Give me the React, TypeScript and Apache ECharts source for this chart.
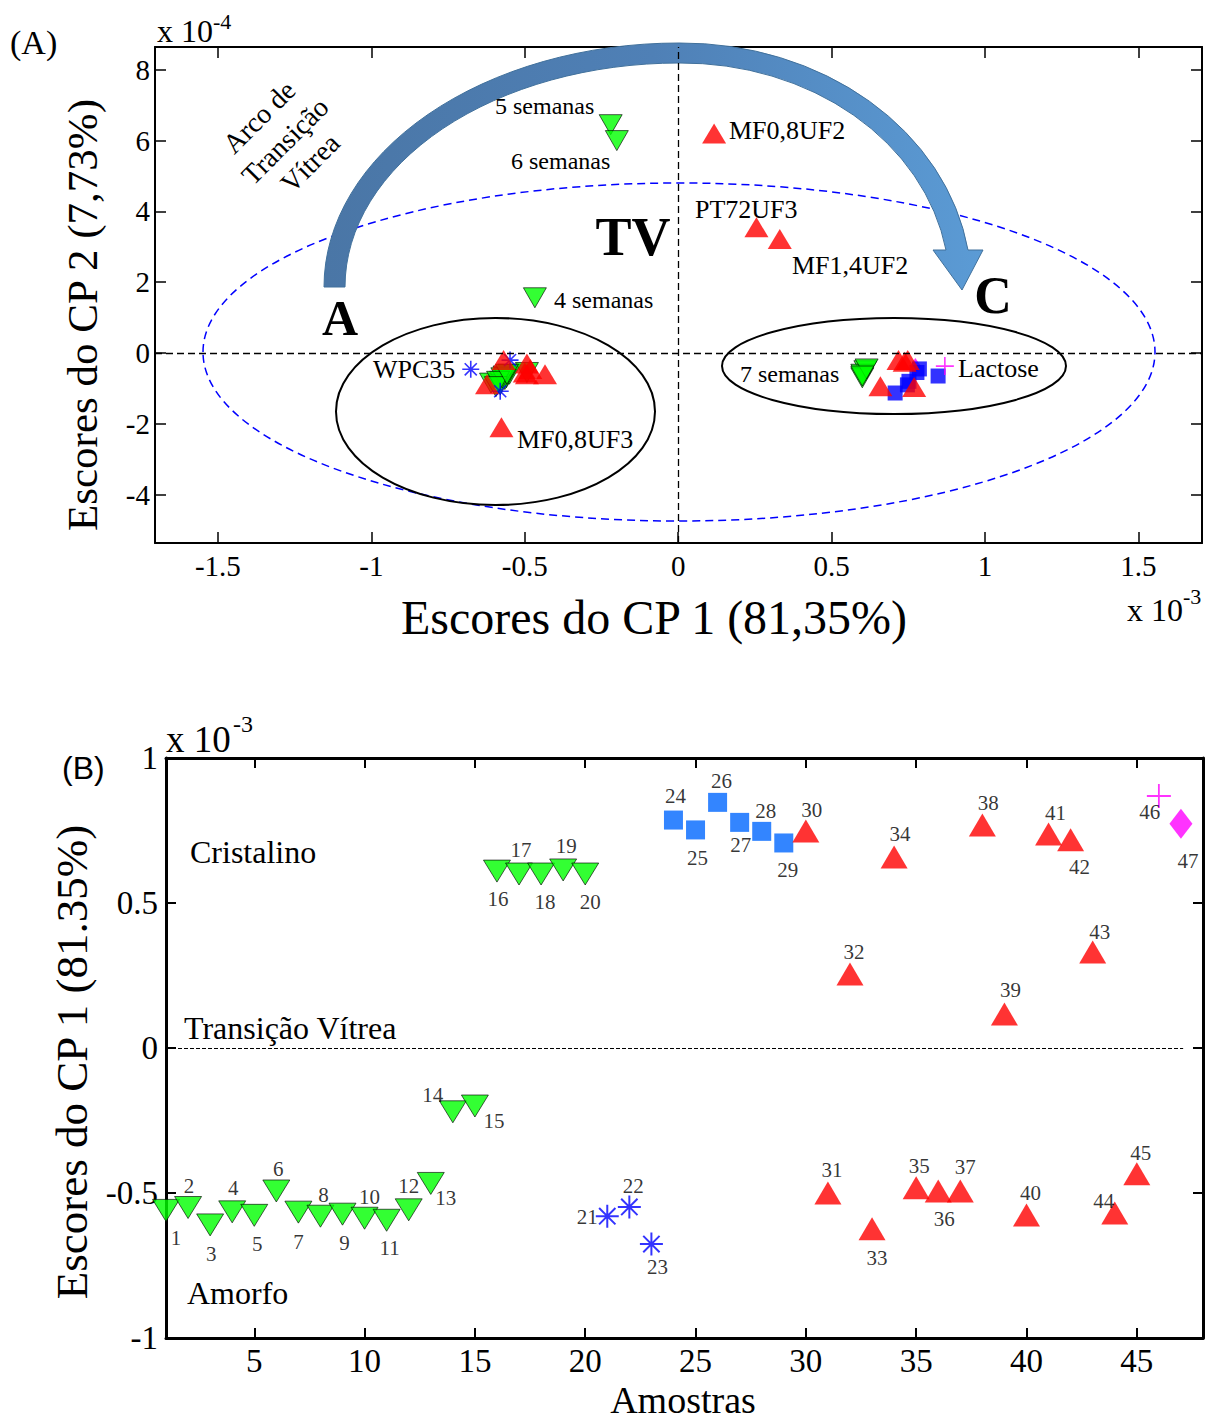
import React, { useEffect, useRef } from 'react';
import * as echarts from 'echarts';

// ---------- data ----------
const samples = [1, 2, 3, 4, 5, 6, 7, 8, 9, 10, 11, 12, 13, 14, 15, 16, 17, 18, 19, 20,
  21, 22, 23, 24, 25, 26, 27, 28, 29, 30, 31, 32, 33, 34, 35, 36, 37, 38, 39, 40,
  41, 42, 43, 44, 45, 46, 47];

// Scores on PC1 (x 1e-3)
const cp1 = [-0.56, -0.55, -0.61, -0.565, -0.577, -0.493, -0.566, -0.58, -0.573, -0.587,
  -0.594, -0.558, -0.467, -0.22, -0.2, 0.61, 0.6, 0.6, 0.614, 0.6,
  -0.58, -0.548, -0.676, 0.786, 0.752, 0.847, 0.778, 0.747, 0.707, 0.748,
  -0.5, 0.255, -0.623, 0.659, -0.482, -0.493, -0.493, 0.769, 0.117, -0.576,
  0.738, 0.718, 0.331, -0.569, -0.434, 0.869, 0.773];

// Scores on PC2 (x 1e-4)
const cp2 = [-0.7, -0.6, -0.85, -0.75, -0.8, -0.55, -0.65, -0.9, -0.7, -0.8,
  -0.95, -0.6, 1.56, 6.45, 6.0, -0.5, -0.6, -0.7, -0.45, -0.65,
  -1.08, -0.2, -0.46, -0.45, -0.8, -0.65, -0.55, -0.9, -1.13, -0.2,
  -0.55, 3.55, -0.88, -0.94, -0.45, -0.3, -0.6, -0.96, 6.2, -2.1,
  -0.25, -0.2, 3.22, -0.2, -0.6, -0.37, -0.37];

// marker group of each sample
const kind = ['v', 'v', 'v', 'v', 'v', 'v', 'v', 'v', 'v', 'v', 'v', 'v', 'v', 'v', 'v', 'v', 'v', 'v', 'v', 'v',
  'star', 'star', 'star', 'sq', 'sq', 'sq', 'sq', 'sq', 'sq',
  'tri', 'tri', 'tri', 'tri', 'tri', 'tri', 'tri', 'tri', 'tri', 'tri', 'tri', 'tri', 'tri', 'tri', 'tri', 'tri',
  'plus', 'dia'];

const xTicksA = [-1.5, -1, -0.5, 0, 0.5, 1, 1.5];
const yTicksA = [-4, -2, 0, 2, 4, 6, 8];
const xTicksB = [5, 10, 15, 20, 25, 30, 35, 40, 45];
const yTicksB = [-1, -0.5, 0, 0.5, 1];

// label offsets (px) of sample numbers in panel B
const labelOffsetB = [[10, 28], [1, -22], [1, 29], [1, -24], [3, 29], [2, -22], [0, 30], [3, -21], [2, 29], [5, -21],
  [3, 28], [0, -24], [15, 15], [-20, -17], [19, 15], [1, 28], [2, -24], [4, 28], [3, -24], [5, 28],
  [-20, 1], [4, -21], [6, 23], [2, -24], [2, 28], [4, -21], [1, 23], [4, -20], [4, 27], [6, -21],
  [4, -23], [4, -22], [5, 29], [6, -23], [3, -22], [6, 28], [5, -24], [6, -22], [6, -24], [4, -22],
  [7, -21], [9, 27], [7, -20], [-11, -12], [4, -21], [-9, 16], [7, 37]];

// ---------- shapes ----------
const ARC_D = 'M324,287 A355,244 0 0 1 679,43 A290,244 0 0 1 968,250 L983,250 L962,290 L933,250 L946,250 A268,224 0 0 0 679,63 A334,224 0 0 0 345,287 Z';
echarts.graphic.registerShape('arcArrow', echarts.graphic.extendPath(ARC_D, {}));

const DOWN_TRI = 'path://M0,0L20,0L10,17Z';
const STAR = 'path://M10,0L10,20M0,10L20,10M2.9,2.9L17.1,17.1M2.9,17.1L17.1,2.9';
const PLUS = 'path://M10,0L10,20M0,10L20,10';

const SERIF = '"Liberation Serif", "Times New Roman", serif';

const styleA: any = {
  v: { symbol: DOWN_TRI, symbolSize: [23, 20], itemStyle: { color: '#00ff00', borderColor: '#000', borderWidth: 0.8 } },
  dia: { symbol: 'diamond', symbolSize: [11, 16], itemStyle: { color: '#ff00ff' } },
  sq: { symbol: 'rect', symbolSize: 15, itemStyle: { color: '#0000ff' } },
  star: { symbol: STAR, symbolSize: 17, itemStyle: { color: 'rgba(0,0,255,0)', borderColor: '#0000ff', borderWidth: 1.6 } },
  tri: { symbol: 'triangle', symbolSize: [24, 20], itemStyle: { color: '#ff0000' } },
  plus: { symbol: PLUS, symbolSize: 18, itemStyle: { color: 'rgba(255,0,255,0)', borderColor: '#ff00ff', borderWidth: 1.6 } },
};
const styleB: any = {
  v: { symbol: DOWN_TRI, symbolSize: [27, 22], itemStyle: { color: '#00ff00', borderColor: '#000', borderWidth: 0.8 } },
  dia: { symbol: 'diamond', symbolSize: [23, 30], itemStyle: { color: '#ff00ff' } },
  sq: { symbol: 'rect', symbolSize: 19, itemStyle: { color: '#0066ff' } },
  star: { symbol: STAR, symbolSize: 23, itemStyle: { color: 'rgba(0,0,255,0)', borderColor: '#0000ff', borderWidth: 2 } },
  tri: { symbol: 'triangle', symbolSize: [27, 23], itemStyle: { color: '#ff0000' } },
  plus: { symbol: PLUS, symbolSize: 24, itemStyle: { color: 'rgba(255,0,255,0)', borderColor: '#ff00ff', borderWidth: 1.8 } },
};
const kindOrder = ['v', 'dia', 'sq', 'star', 'tri', 'plus'];

function indicesOf(k: string) {
  const out: number[] = [];
  kind.forEach((v, i) => { if (v === k) out.push(i); });
  return out;
}

function txt(text: string, x: number, y: number, size: number, opts: any = {}) {
  return {
    type: 'text',
    x, y,
    rotation: opts.rotation || 0,
    z: 10,
    style: {
      text,
      font: `${opts.bold ? 'bold ' : ''}${size}px ${opts.family || SERIF}`,
      fill: opts.color || '#000',
      textAlign: opts.align || 'left',
      textVerticalAlign: 'middle',
      align: opts.align || 'left',
      verticalAlign: 'middle',
    },
  };
}

function axisPair(gridIndex: number, dim: 'x' | 'y', min: number, max: number, ticks: number[], o: any) {
  const main = {
    gridIndex,
    type: 'value',
    min, max,
    position: dim === 'x' ? 'bottom' : 'left',
    axisLine: { show: true, onZero: false, lineStyle: { color: '#000', width: o.lineWidth } },
    axisTick: { show: true, inside: true, length: o.tickLen, customValues: ticks, lineStyle: { color: '#000', width: o.tickWidth } },
    axisLabel: {
      show: true, customValues: ticks, formatter: (v: number) => String(v),
      fontSize: o.fontSize, fontFamily: SERIF, color: '#000', margin: o.margin,
    },
    splitLine: { show: false },
  };
  const mirror = {
    gridIndex,
    type: 'value',
    min, max,
    position: dim === 'x' ? 'top' : 'right',
    axisLine: { show: true, onZero: false, lineStyle: { color: '#000', width: o.lineWidth } },
    axisTick: { show: true, inside: true, length: o.tickLen, customValues: ticks, lineStyle: { color: '#000', width: o.tickWidth } },
    axisLabel: { show: false },
    splitLine: { show: false },
  };
  return [main, mirror];
}

export default function App() {
  const ref = useRef<HTMLDivElement>(null);

  useEffect(() => {
    document.body.style.margin = '0';
    const chart = echarts.init(ref.current!, null, { renderer: 'svg' });

    const optA = { lineWidth: 2, tickLen: 11, tickWidth: 1.5, fontSize: 29 };
    const optB = { lineWidth: 3, tickLen: 10, tickWidth: 2, fontSize: 33 };

    const xAxes = [
      ...axisPair(0, 'x', -1.705, 1.707, xTicksA, { ...optA, margin: 8 }),
      ...axisPair(1, 'x', 1, 48, xTicksB, { ...optB, margin: 6 }),
    ];
    const yAxes = [
      ...axisPair(0, 'y', -5.367, 8.644, yTicksA, { ...optA, margin: 5 }),
      ...axisPair(1, 'y', -1, 1, yTicksB, { ...optB, margin: 8 }),
    ];

    const series: any[] = [];
    kindOrder.forEach((k, n) => {
      const idx = indicesOf(k);
      const s: any = {
        type: 'scatter',
        name: 'A-' + k,
        xAxisIndex: 0,
        yAxisIndex: 0,
        ...styleA[k],
        data: idx.map((i) => [cp1[i], cp2[i]]),
        z: 2 + n * 0.1,
      };
      if (n === 0) {
        s.markLine = {
          silent: true,
          symbol: 'none',
          label: { show: false },
          lineStyle: { color: '#000', type: [7, 4], width: 1.3 },
          data: [{ xAxis: 0 }, { yAxis: 0 }],
        };
      }
      series.push(s);
    });
    kindOrder.forEach((k, n) => {
      const idx = indicesOf(k);
      const s: any = {
        type: 'scatter',
        name: 'B-' + k,
        xAxisIndex: 2,
        yAxisIndex: 2,
        ...styleB[k],
        z: 2 + n * 0.1,
        data: idx.map((i) => ({
          value: [samples[i], cp1[i]],
          label: {
            show: true,
            position: 'inside',
            offset: labelOffsetB[i],
            formatter: String(samples[i]),
            color: '#000',
            textBorderWidth: 0,
            fontSize: 21,
            fontFamily: SERIF,
          },
        })),
      };
      if (n === 0) {
        s.markLine = {
          silent: true,
          symbol: 'none',
          label: { show: false },
          lineStyle: { color: '#000', type: [4, 2], width: 1 },
          data: [[{ coord: [1, 0] }, { coord: [47.1, 0] }]],
        };
      }
      series.push(s);
    });

    const arcFill = new echarts.graphic.LinearGradient(0, 0, 1, 0, [
      { offset: 0, color: '#4a76a6' },
      { offset: 0.5, color: '#4f80b6' },
      { offset: 1, color: '#5b9bd5' },
    ]);

    const graphic: any[] = [
      // ellipses
      { type: 'ellipse', z: 1, shape: { cx: 679, cy: 352, rx: 476, ry: 169 },
        style: { fill: 'none', stroke: '#0000ff', lineWidth: 1.5, lineDash: [8, 5] } },
      { type: 'ellipse', z: 1, shape: { cx: 495.5, cy: 411.5, rx: 159.5, ry: 93.5 },
        style: { fill: 'none', stroke: '#000', lineWidth: 2 } },
      { type: 'ellipse', z: 1, shape: { cx: 894, cy: 366, rx: 172, ry: 48 },
        style: { fill: 'none', stroke: '#000', lineWidth: 2 } },
      // arc arrow
      { type: 'arcArrow', x: 0, y: 0, z: 1, style: { fill: arcFill, stroke: '#41719c', lineWidth: 1 } },
      // panel A texts
      txt('(A)', 10, 42, 34),
      txt('x 10', 157, 31, 32),
      txt('-4', 213, 21, 22),
      txt('x 10', 1127, 610, 32),
      txt('-3', 1183, 596, 22),
      txt('TV', 633, 237, 54, { bold: true, align: 'center' }),
      txt('A', 340, 318, 50, { bold: true, align: 'center' }),
      txt('C', 993, 295, 52, { bold: true, align: 'center' }),
      txt('Arco de', 259, 117, 28, { align: 'center', rotation: Math.PI / 4 }),
      txt('Transição', 285, 141, 28, { align: 'center', rotation: Math.PI / 4 }),
      txt('Vítrea', 310, 163, 28, { align: 'center', rotation: Math.PI / 4 }),
      txt('5 semanas', 495, 106, 24),
      txt('6 semanas', 511, 161, 24),
      txt('4 semanas', 554, 300, 24),
      txt('7 semanas', 740, 374, 24),
      txt('MF0,8UF2', 729, 130, 26),
      txt('PT72UF3', 695, 209, 26),
      txt('MF1,4UF2', 792, 265, 26),
      txt('WPC35', 373, 369, 26),
      txt('MF0,8UF3', 517, 439, 26),
      txt('Lactose', 958, 368, 26),
      txt('Escores do CP 1 (81,35%)', 654, 617, 48, { align: 'center' }),
      txt('Escores do CP 2 (7,73%)', 82, 315, 43, { align: 'center', rotation: Math.PI / 2 }),
      // panel B texts
      txt('(B)', 62, 768, 32, { family: '"Liberation Sans", Arial, sans-serif' }),
      txt('x 10', 166, 739, 37),
      txt('-3', 233, 724, 24),
      txt('Cristalino', 190, 852, 32),
      txt('Transição Vítrea', 184, 1028, 32),
      txt('Amorfo', 187, 1293, 32),
      txt('Escores do CP 1 (81.35%)', 72, 1062, 45, { align: 'center', rotation: Math.PI / 2 }),
      txt('Amostras', 683, 1400, 38, { align: 'center' }),
    ];

    chart.setOption({
      animation: false,
      backgroundColor: '#fff',
      grid: [
        { left: 155, top: 47, width: 1047, height: 496 },
        { left: 166, top: 758, width: 1037, height: 580 },
      ],
      xAxis: xAxes,
      yAxis: yAxes,
      series,
      graphic,
    });

    return () => chart.dispose();
  }, []);

  return <div ref={ref} style={{ width: 1211, height: 1420 }} />;
}
